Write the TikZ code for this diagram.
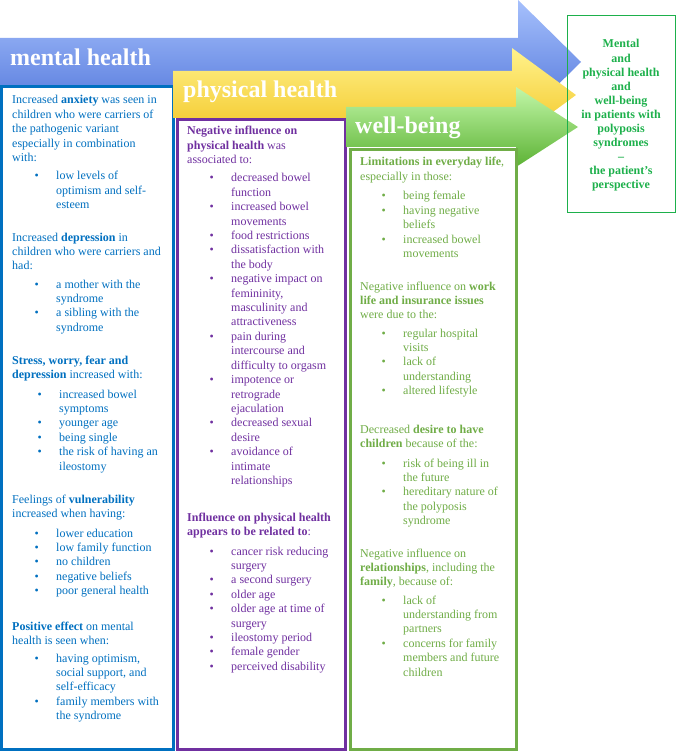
\documentclass[tikz,border=0pt]{standalone}
\usepackage{fontspec}
\setmainfont{Liberation Serif}
\definecolor{mblue}{HTML}{0070C0}
\definecolor{mpurple}{HTML}{7030A0}
\definecolor{mgreen}{HTML}{70AD47}
\definecolor{rgreen}{HTML}{1DB04B}
\definecolor{bluetop}{HTML}{A6C0FC}
\definecolor{bluebot}{HTML}{4A70D8}
\definecolor{yeltop}{HTML}{FFF28C}
\definecolor{yelbot}{HTML}{F2C420}
\definecolor{grntop}{HTML}{C2F7A8}
\definecolor{grnbot}{HTML}{5CB234}
\newcommand{\blk}[1]{\parbox[t]{200pt}{\raggedright #1}}
\newcommand{\itm}[1]{\noindent\llap{\textbullet\hspace{17.5pt}}#1\par}
\tikzset{
  txt/.style={inner sep=0pt, anchor=base west, font=\fontsize{12}{14.4}\selectfont},
  tblue/.style={txt, text=mblue},
  tpurple/.style={txt, text=mpurple},
  tgreen/.style={txt, text=mgreen},
  hdr/.style={inner sep=0pt, anchor=base west, text=white, font=\fontsize{24}{28}\selectfont\bfseries},
  colbox/.style={line width=3pt, fill=white},
}
\begin{document}
\begin{tikzpicture}[x=1pt, y=-1pt]
\useasboundingbox (0,0) rectangle (677,751);
% blue arrow and column
\shade[top color=bluetop, bottom color=bluebot] (0,38) -- (518,38) -- (518,0) -- (581,62) -- (518,124) -- (518,86) -- (0,86) -- cycle;
\draw[colbox, draw=mblue] (1.5,87) rectangle (173.5,749.5);
\node[hdr] (hm) at (10,66) {mental health};
% yellow arrow and column
\shade[top color=yeltop, bottom color=yelbot] (173,71) -- (512,71) -- (512,48) -- (576,95) -- (512,142) -- (512,118) -- (173,118) -- cycle;
\draw[colbox, draw=mpurple] (177.5,119.5) rectangle (345,749.5);
\node[hdr] (hp) at (183,98) {physical health};
% green arrow and column
\shade[top color=grntop, bottom color=grnbot] (346,107) -- (516,107) -- (516,87) -- (578,127) -- (516,167) -- (516,147) -- (346,147) -- cycle;
\draw[colbox, draw=mgreen] (350,149.5) rectangle (516,749.5);
\node[hdr] (hw) at (355,134) {well-being};
% right box
\draw[rgreen, line width=1.5pt] (567.5,15.5) rectangle (675.5,212.5);
\node[inner sep=0pt, anchor=base, text=rgreen, font=\fontsize{12}{14.1}\selectfont\bfseries] (title) at (621,48)
  {\parbox[t]{105pt}{\centering Mental\\and\\physical health\\and\\well-being\\in patients with\\polyposis\\syndromes\\–\\the patient’s\\perspective}};
% ---- blue column text
\node[tblue] (b1) at (12,104) {\blk{Increased {\bfseries anxiety} was seen in\\children who were carriers of\\the pathogenic variant\\especially in combination\\with:}};
\node[tblue] (b2) at (56,180) {\blk{\itm{low levels of\\optimism and self-\\esteem}}};
\node[tblue] (b3) at (12,241) {\blk{Increased {\bfseries depression} in\\children who were carriers and\\had:}};
\node[tblue] (b4) at (56,288) {\blk{\itm{a mother with the\\syndrome}\itm{a sibling with the\\syndrome}}};
\node[tblue] (b5) at (12,364) {\blk{{\bfseries Stress, worry, fear and\\depression} increased with:}};
\node[tblue] (b6) at (59,398) {\blk{\itm{increased bowel\\symptoms}\itm{younger age}\itm{being single}\itm{the risk of having an\\ileostomy}}};
\node[tblue] (b7) at (12,503) {\blk{Feelings of {\bfseries vulnerability}\\increased when having:}};
\node[tblue] (b8) at (56,537) {\blk{\itm{lower education}\itm{low family function}\itm{no children}\itm{negative beliefs}\itm{poor general health}}};
\node[tblue] (b9) at (12,630) {\blk{{\bfseries Positive effect} on mental\\health is seen when:}};
\node[tblue] (b10) at (56,662) {\blk{\itm{having optimism,\\social support, and\\self-efficacy}\itm{family members with\\the syndrome}}};
% ---- purple column text
\node[tpurple] (p1) at (187,135) {\blk{{\bfseries Negative influence on\\physical health} was\\associated to:}};
\node[tpurple] (p2) at (231,182) {\blk{\itm{decreased bowel\\function}\itm{increased bowel\\movements}\itm{food restrictions}\itm{dissatisfaction with\\the body}\itm{negative impact on\\femininity,\\masculinity and\\attractiveness}\itm{pain during\\intercourse and\\difficulty to orgasm}\itm{impotence or\\retrograde\\ejaculation}\itm{decreased sexual\\desire}\itm{avoidance of\\intimate\\relationships}}};
\node[tpurple] (p3) at (187,521) {\blk{{\bfseries Influence on physical health\\appears to be related to}:}};
\node[tpurple] (p4) at (231,555) {\blk{\itm{cancer risk reducing\\surgery}\itm{a second surgery}\itm{older age}\itm{older age at time of\\surgery}\itm{ileostomy period}\itm{female gender}\itm{perceived disability}}};
% ---- green column text
\node[tgreen] (g1) at (360,166) {\blk{{\bfseries Limitations in everyday life},\\especially in those:}};
\node[tgreen] (g2) at (403,200) {\blk{\itm{being female}\itm{having negative\\beliefs}\itm{increased bowel\\movements}}};
\node[tgreen] (g3) at (360,290) {\blk{Negative influence on {\bfseries work\\life and insurance issues}\\were due to the:}};
\node[tgreen] (g4) at (403,337) {\blk{\itm{regular hospital\\visits}\itm{lack of\\understanding}\itm{altered lifestyle}}};
\node[tgreen] (g5) at (360,433) {\blk{Decreased {\bfseries desire to have\\children} because of the:}};
\node[tgreen] (g6) at (403,467) {\blk{\itm{risk of being ill in\\the future}\itm{hereditary nature of\\the polyposis\\syndrome}}};
\node[tgreen] (g7) at (360,557) {\blk{Negative influence on\\{\bfseries relationships}, including the\\{\bfseries family}, because of:}};
\node[tgreen] (g8) at (403,604) {\blk{\itm{lack of\\understanding from\\partners}\itm{concerns for family\\members and future\\children}}};
\end{tikzpicture}
\end{document}
